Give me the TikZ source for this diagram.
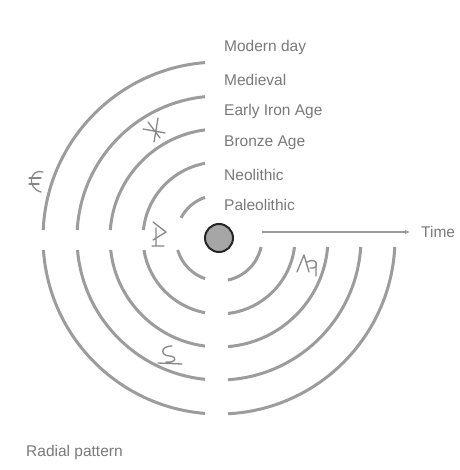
\documentclass[tikz,border=0pt]{standalone}
\usepackage{fontspec}
\setmainfont{Liberation Sans}
\usetikzlibrary{arrows.meta}
\definecolor{arcgrey}{HTML}{9C9C9C}
\definecolor{txtgrey}{HTML}{7A7A7A}
\begin{document}
\begin{tikzpicture}[x=1pt,y=1pt,
  arcline/.style={draw=arcgrey,line width=3pt},
  lbl/.style={anchor=west,inner sep=0pt,text=txtgrey,font=\fontsize{15.5}{17}\selectfont},
  icon/.style={draw=txtgrey!90,line width=1.3pt,line cap=round,line join=round}]
\clip (0,0) rectangle (459,470);
\fill[white] (0,0) rectangle (459,470);
\coordinate (C) at (219,232);
% rings
\foreach \rad in {43,76,109,142,176}{
  \pgfmathsetmacro\ua{90+asin(14/\rad)}
  \pgfmathsetmacro\ub{\rad<50 ? 152 : 180-asin(8/\rad)}
  \pgfmathsetmacro\la{180+asin(12/\rad)}
  \pgfmathsetmacro\lb{270-asin(14/\rad)}
  \pgfmathsetmacro\ra{270+asin(9/\rad)}
  \pgfmathsetmacro\rb{360-asin(9/\rad)}
  \draw[arcline] (C) ++(\ua:\rad pt) arc[start angle=\ua,end angle=\ub,radius=\rad pt];
  \draw[arcline] (C) ++(\la:\rad pt) arc[start angle=\la,end angle=\lb,radius=\rad pt];
  \draw[arcline] (C) ++(\ra:\rad pt) arc[start angle=\ra,end angle=\rb,radius=\rad pt];
}
% centre dot
\node[circle,minimum size=28pt,inner sep=0pt,fill=gray!70,draw=black!85,line width=2pt] (dot) at (C) {};
% time arrow
\coordinate (ta) at (262,238);
\coordinate (te) at (410,238);
\node[lbl] (time) at (421,238) {Time};
\draw[draw=gray!80,line width=1.6pt,-{Latex[length=5pt,width=4.5pt]}] (ta) -- (te);
% labels
\node[lbl] (l1) at (224,422) {Modern day};
\node[lbl] (l2) at (224,390) {Medieval};
\node[lbl] (l3) at (224,358) {Early Iron Age};
\node[lbl] (l4) at (224,327) {Bronze Age};
\node[lbl] (l5) at (224,295) {Neolithic};
\node[lbl] (l6) at (224,265) {Paleolithic};
\node[lbl] (cap) at (26,18) {Radial pattern};
% small pictograms (screen coordinates)
\begin{scope}[shift={(0,470)},yscale=-1]
  \draw[icon] (43,172) .. controls (30,168) and (26,188) .. (41,192);
  \draw[icon] (29,178) -- (41,178) (29,184) -- (39,184);
  \draw[icon] (143,129) -- (165,133) (158,118) -- (154,142) (148,122) -- (160,138);
  \draw[icon] (153,222) -- (166,232) -- (153,240) (156,228) -- (156,246) (152,246) -- (164,246);
  \draw[icon] (297,272) -- (304,255) -- (309,272) (307,262) .. controls (318,256) and (320,270) .. (310,268) (316,262) -- (316,276);
  \draw[icon] (172,346) .. controls (160,346) and (160,356) .. (170,356) .. controls (178,357) and (176,363) .. (166,362) (158,363) -- (182,364);
\end{scope}
\end{tikzpicture}
\end{document}
